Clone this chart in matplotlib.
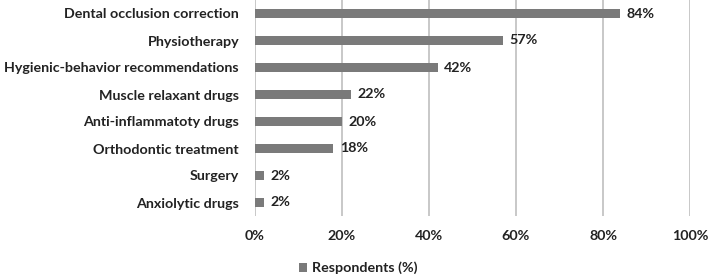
import matplotlib
matplotlib.use("Agg")
import matplotlib.pyplot as plt
from matplotlib.patches import Patch

categories = ["Dental occlusion correction", "Physiotherapy", "Hygienic-behavior recommendations",
              "Muscle relaxant drugs", "Anti-inflammatoty drugs", "Orthodontic treatment",
              "Surgery", "Anxiolytic drugs"]
values = [84, 57, 42, 22, 20, 18, 2, 2]
xticks = [0, 20, 40, 60, 80, 100]
series_name = "Respondents (%)"

plt.rcParams['font.family'] = ['Lato', 'DejaVu Sans']
FS = 10.3
W = 'bold'
TC = '#222222'
fig = plt.figure(figsize=(7.08, 2.78), dpi=100)
ax = fig.add_axes([255/708, 62/278, 435/708, 216/278])

ypos = list(range(len(categories)))[::-1]
color = "#7a7a7a"
ax.barh(ypos, values, height=0.34, color=color, zorder=3)
for y, v in zip(ypos, values):
    ax.text(v + 1.5, y, f"{v}%", va='center', ha='left', fontsize=FS,
            fontweight=W, color=TC)

ax.set_xlim(0, 100)
ax.set_ylim(-0.5, len(categories) - 0.5)
ax.set_xticks(xticks)
ax.set_xticklabels([f"{t}%" for t in xticks], fontsize=FS, fontweight=W, color=TC)
ax.set_yticks(ypos)
ax.set_yticklabels(categories, fontsize=FS, fontweight=W, color=TC)
ax.tick_params(axis='both', length=0)
ax.tick_params(axis='y', pad=11.5)
ax.tick_params(axis='x', pad=10)
ax.grid(axis='x', color='#c8c8c8', linewidth=1.4, zorder=0)
for s in ax.spines.values():
    s.set_visible(False)

handles = [Patch(facecolor=color, label=series_name)]
fig.legend(handles=handles, loc='center', bbox_to_anchor=(358/708, 1 - 268/278), frameon=False,
           prop={'size': FS, 'weight': W}, handlelength=0.6, handleheight=0.6,
           handletextpad=0.3, labelcolor=TC)

fig.savefig("out.png", dpi=100)
